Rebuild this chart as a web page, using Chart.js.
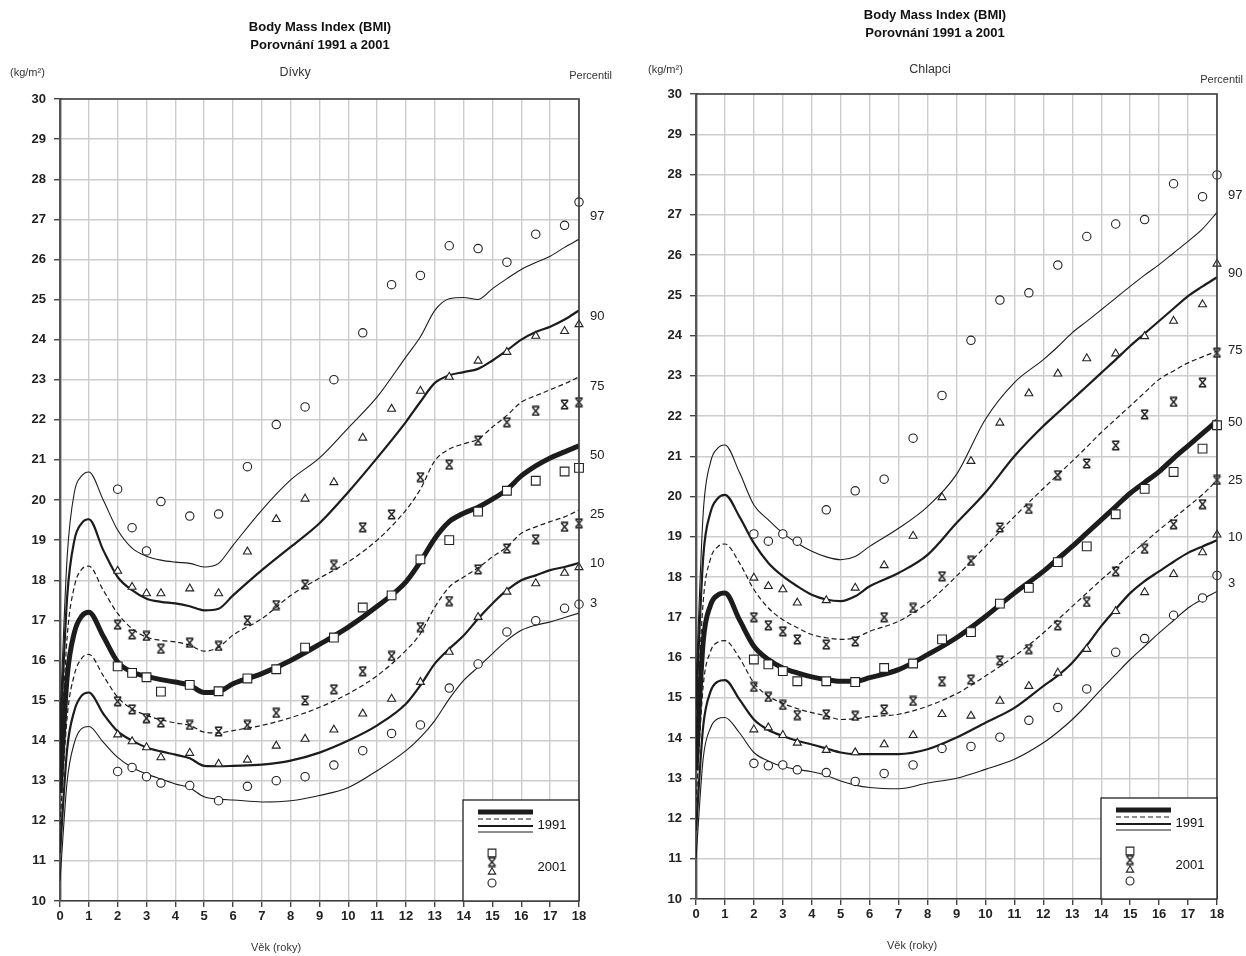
<!DOCTYPE html>
<html><head><meta charset="utf-8">
<script src="https://cdn.jsdelivr.net/npm/chart.js@4.4.1/dist/chart.umd.min.js"></script>
<style>
html,body{margin:0;padding:0;background:#fff;}
#wrap{position:relative;width:1246px;height:956px;overflow:hidden;}
canvas{position:absolute;top:0;}
#cL{left:0;} #cR{left:623px;}
</style></head><body>
<div id="wrap"><canvas id="cL" width="623" height="956"></canvas><canvas id="cR" width="623" height="956"></canvas></div>
<script>
// ---------------- DATA ----------------
const ages1991 = [0,0.25,0.5,0.75,1,1.5,2,2.5,3,3.5,4,4.5,5,5.5,6,7,8,9,10,11,12,12.5,13,13.5,14,14.5,15,15.5,16,16.5,17,17.5,18];
const ages2001 = [2,2.5,3,3.5,4.5,5.5,6.5,7.5,8.5,9.5,10.5,11.5,12.5,13.5,14.5,15.5,16.5,17.5,18];
const percentiles = ['97','90','75','50','25','10','3'];
const yTickValues = [10,11,12,13,14,15,16,17,18,19,20,21,22,23,24,25,26,27,28,29,30];
const xTickValues = [0,1,2,3,4,5,6,7,8,9,10,11,12,13,14,15,16,17,18];

// Girls (Dívky) 1991 percentile curves
const g1991_97 = [14.5,18.6,20.2,20.6,20.7,20.0,19.25,18.8,18.6,18.5,18.45,18.42,18.33,18.42,18.87,19.75,20.5,21.05,21.8,22.57,23.57,24.07,24.73,25.02,25.05,25.0,25.27,25.52,25.75,25.92,26.08,26.3,26.5];
const g1991_90 = [13.9,17.6,19.0,19.42,19.52,18.75,18.08,17.75,17.54,17.46,17.42,17.35,17.25,17.29,17.62,18.25,18.83,19.42,20.2,21.05,21.95,22.45,22.92,23.11,23.19,23.27,23.48,23.73,24.0,24.19,24.32,24.5,24.73];
const g1991_75 = [13.3,16.6,17.85,18.27,18.35,17.75,17.17,16.79,16.58,16.5,16.46,16.38,16.23,16.33,16.63,17.04,17.62,18.05,18.46,19.0,19.75,20.27,20.98,21.27,21.4,21.52,21.82,22.11,22.44,22.6,22.75,22.9,23.07];
const g1991_50 = [12.7,15.6,16.7,17.1,17.2,16.6,15.96,15.71,15.6,15.52,15.46,15.38,15.2,15.22,15.42,15.67,16.0,16.4,16.83,17.35,17.96,18.46,19.04,19.46,19.67,19.82,20.02,20.26,20.6,20.85,21.05,21.2,21.35];
const g1991_25 = [11.9,14.6,15.65,16.05,16.15,15.62,15.08,14.79,14.63,14.52,14.44,14.38,14.21,14.19,14.25,14.38,14.57,14.83,15.17,15.62,16.25,16.67,17.33,17.83,18.08,18.31,18.58,18.83,19.17,19.33,19.46,19.58,19.75];
const g1991_10 = [11.2,13.8,14.75,15.12,15.2,14.67,14.23,14.0,13.83,13.73,13.65,13.56,13.37,13.36,13.37,13.4,13.5,13.7,14.0,14.38,14.92,15.38,15.92,16.29,16.62,17.04,17.42,17.75,18.0,18.12,18.25,18.33,18.43];
const g1991_3  = [10.5,13.0,13.95,14.3,14.35,13.96,13.58,13.33,13.17,13.04,12.92,12.82,12.6,12.54,12.52,12.47,12.5,12.63,12.83,13.25,13.75,14.08,14.5,15.04,15.5,15.83,16.17,16.5,16.75,16.88,16.96,17.07,17.18];

// Girls 2001 measured percentiles
const g2001_97 = [20.27,19.31,18.73,19.96,19.6,19.65,20.83,21.88,22.32,23.0,24.17,25.37,25.6,26.34,26.27,25.93,26.63,26.85,27.43];
const g2001_90 = [18.23,17.83,17.67,17.67,17.79,17.67,18.71,19.52,20.03,20.44,21.55,22.27,22.72,23.07,23.47,23.69,24.09,24.21,24.38];
const g2001_75 = [16.89,16.65,16.61,16.29,16.44,16.36,17.0,17.38,17.89,18.38,19.32,19.64,20.57,20.88,21.48,21.94,22.22,22.38,22.44];
const g2001_50 = [15.85,15.69,15.58,15.22,15.39,15.23,15.55,15.78,16.32,16.57,17.32,17.62,18.52,19.0,19.71,20.23,20.48,20.71,20.8];
const g2001_25 = [14.98,14.78,14.56,14.45,14.39,14.23,14.39,14.69,15.0,15.28,15.73,16.11,16.83,17.48,18.27,18.79,19.02,19.33,19.42];
const g2001_10 = [14.15,13.98,13.83,13.58,13.69,13.42,13.52,13.87,14.04,14.27,14.67,15.04,15.46,16.21,17.08,17.71,17.92,18.18,18.32];
const g2001_3  = [13.23,13.33,13.1,12.94,12.88,12.5,12.86,13.0,13.1,13.39,13.75,14.18,14.39,15.31,15.91,16.71,16.99,17.3,17.4];

// Boys (Chlapci) 1991 percentile curves
const b1991_97 = [15.3,19.6,20.85,21.2,21.28,20.6,19.79,19.42,19.09,18.84,18.64,18.5,18.43,18.51,18.76,19.21,19.75,20.55,21.92,22.83,23.4,23.72,24.07,24.35,24.64,24.93,25.22,25.5,25.76,26.05,26.34,26.65,27.06];
const b1991_90 = [14.7,18.5,19.6,19.95,20.04,19.5,18.84,18.35,18.02,17.77,17.56,17.44,17.4,17.52,17.77,18.1,18.55,19.34,20.1,21.0,21.75,22.08,22.41,22.74,23.07,23.4,23.74,24.05,24.36,24.67,24.98,25.22,25.45];
const b1991_75 = [14.0,17.4,18.45,18.75,18.82,18.35,17.69,17.23,16.94,16.74,16.57,16.49,16.45,16.49,16.65,16.9,17.36,18.02,18.76,19.5,20.2,20.54,20.88,21.23,21.59,21.92,22.25,22.58,22.91,23.12,23.32,23.47,23.61];
const b1991_50 = [13.2,16.4,17.3,17.55,17.6,16.94,16.28,15.95,15.74,15.62,15.52,15.45,15.41,15.41,15.5,15.7,16.07,16.49,17.02,17.6,18.14,18.45,18.76,19.09,19.42,19.75,20.08,20.35,20.62,20.95,21.26,21.57,21.88];
const b1991_25 = [12.4,15.3,16.15,16.38,16.42,15.99,15.37,15.04,14.86,14.73,14.63,14.55,14.46,14.48,14.53,14.59,14.79,15.1,15.54,16.03,16.61,16.94,17.27,17.6,17.93,18.24,18.55,18.86,19.17,19.46,19.75,20.05,20.4];
const b1991_10 = [11.7,14.3,15.15,15.4,15.44,14.96,14.46,14.2,14.05,13.93,13.84,13.74,13.64,13.6,13.6,13.6,13.72,14.01,14.38,14.75,15.29,15.55,15.87,16.3,16.78,17.2,17.6,17.9,18.14,18.38,18.6,18.76,18.91];
const b1991_3  = [11.0,13.5,14.25,14.48,14.51,14.13,13.64,13.43,13.29,13.22,13.16,13.07,12.93,12.83,12.77,12.74,12.88,13.0,13.22,13.47,13.88,14.15,14.46,14.82,15.21,15.58,15.95,16.28,16.61,16.92,17.23,17.45,17.64];

// Boys 2001 measured percentiles
const b2001_97 = [19.07,18.89,19.07,18.89,19.67,20.14,20.43,21.45,22.51,23.88,24.88,25.06,25.75,26.46,26.77,26.88,27.77,27.45,27.99];
const b2001_90 = [17.98,17.77,17.69,17.36,17.42,17.73,18.29,19.02,19.98,20.88,21.83,22.56,23.05,23.43,23.55,23.98,24.36,24.77,25.78];
const b2001_75 = [17.0,16.8,16.65,16.45,16.32,16.4,17.0,17.23,18.02,18.4,19.23,19.69,20.53,20.82,21.27,22.04,22.35,22.83,23.57];
const b2001_50 = [15.95,15.83,15.66,15.41,15.41,15.39,15.74,15.85,16.45,16.63,17.34,17.73,18.37,18.76,19.56,20.19,20.61,21.19,21.77];
const b2001_25 = [15.27,15.02,14.82,14.57,14.59,14.55,14.71,14.92,15.41,15.45,15.93,16.21,16.8,17.38,18.14,18.7,19.31,19.81,20.41];
const b2001_10 = [14.21,14.26,14.07,13.88,13.7,13.64,13.84,14.07,14.59,14.55,14.92,15.29,15.62,16.21,17.15,17.62,18.07,18.61,19.05];
const b2001_3  = [13.37,13.31,13.33,13.21,13.14,12.92,13.12,13.33,13.74,13.79,14.02,14.44,14.76,15.22,16.13,16.47,17.05,17.48,18.04];

// ---------------- STYLE ----------------
const FONT = "'Liberation Sans', Arial, Helvetica, sans-serif";
const INK = '#1c1c1c';
const lineStyles = [
  {w:1.1, dash:[]},      // 97
  {w:2.2, dash:[]},      // 90
  {w:1.2, dash:[5,3]},   // 75
  {w:5.0, dash:[]},      // 50
  {w:1.2, dash:[5,3]},   // 25
  {w:2.2, dash:[]},      // 10
  {w:1.1, dash:[]}       // 3
];

function makeCrossImage(){
  const c = document.createElement('canvas');
  c.width = 11; c.height = 11;
  const g = c.getContext('2d');
  g.strokeStyle = INK; g.lineWidth = 1.4; g.lineCap = 'butt';
  g.beginPath();
  g.moveTo(2.2,1.8); g.lineTo(8.8,9.2);
  g.moveTo(8.8,1.8); g.lineTo(2.2,9.2);
  g.moveTo(1.8,1.3); g.lineTo(9.2,1.3);
  g.moveTo(1.8,9.7); g.lineTo(9.2,9.7);
  g.stroke();
  return c;
}
const crossImg = makeCrossImage();
const markerStyles = [
  {style:'circle',   r:4.2},
  {style:'triangle', r:4.6},
  {style:crossImg,   r:5},
  {style:'rect',     r:6.2},
  {style:crossImg,   r:5},
  {style:'triangle', r:4.6},
  {style:'circle',   r:4.2}
];

function buildDatasets(curves, points){
  const ds = [];
  curves.forEach((vals, i) => {
    ds.push({
      type:'line', label:'1991 P'+percentiles[i],
      data: ages1991.map((a,j)=>({x:a, y:vals[j]})),
      borderColor: INK, borderWidth: lineStyles[i].w, borderDash: lineStyles[i].dash,
      pointRadius:0, cubicInterpolationMode:'monotone', fill:false, order:1
    });
  });
  points.forEach((vals, i) => {
    ds.push({
      type:'scatter', label:'2001 P'+percentiles[i],
      data: ages2001.map((a,j)=>({x:a, y:vals[j]})),
      showLine:false, pointStyle: markerStyles[i].style, pointRadius: markerStyles[i].r,
      pointBorderWidth:1.1, pointBorderColor:'#222', pointBackgroundColor:'#fff',
      order:0, clip:false
    });
  });
  return ds;
}

const panelPlugin = {
  id:'panelDeco',
  afterDatasetsDraw(chart, args, o){
    const ctx = chart.ctx, ca = chart.chartArea, ys = chart.scales.y;
    ctx.save();
    // frame top & right
    ctx.strokeStyle = '#3a3a3a'; ctx.lineWidth = 1.6;
    ctx.beginPath();
    ctx.moveTo(ca.left, ca.top); ctx.lineTo(ca.right, ca.top); ctx.lineTo(ca.right, ca.bottom);
    ctx.stroke();
    // texts
    ctx.fillStyle = '#111'; ctx.textBaseline = 'middle';
    ctx.font = 'bold 13px '+FONT; ctx.textAlign = 'center';
    ctx.fillText('Body Mass Index (BMI)', o.titleX, o.titleY);
    ctx.fillText('Porovnání 1991 a 2001', o.titleX, o.titleY+18);
    ctx.fillStyle = '#333';
    ctx.font = '11px '+FONT; ctx.textAlign = 'left';
    ctx.fillText('(kg/m²)', o.unitX, o.unitY);
    ctx.font = '12.5px '+FONT; ctx.textAlign = 'center';
    ctx.fillText(o.subtitle, o.subX, o.subY);
    ctx.font = '11px '+FONT; ctx.textAlign = 'right';
    ctx.fillText('Percentil', o.pctX, o.pctY);
    ctx.font = '11px '+FONT; ctx.textAlign = 'center';
    ctx.fillText('Věk (roky)', o.xTitleX, o.xTitleY);
    // percentile labels at right side
    ctx.font = '13px '+FONT; ctx.textAlign = 'left'; ctx.fillStyle = '#222';
    percentiles.forEach((p,i)=>{
      ctx.fillText(p, ca.right + 11, ys.getPixelForValue(o.labelAnchors[i]));
    });
    // in-plot legend box
    const bx = ca.right - 116, by = ca.bottom - 101;
    ctx.fillStyle = '#fff';
    ctx.fillRect(bx, by, 116, 101);
    ctx.strokeStyle = '#222'; ctx.lineWidth = 1.3;
    ctx.strokeRect(bx, by, 116, 101);
    const lx1 = bx + 15, lx2 = bx + 70;
    const legendLines = [[12,5,[]],[19,1.2,[5,3]],[26,2.2,[]],[32,1.1,[]]];
    legendLines.forEach(([dy,w,d])=>{
      ctx.beginPath(); ctx.setLineDash(d); ctx.lineWidth = w; ctx.strokeStyle = INK;
      ctx.moveTo(lx1, by+dy); ctx.lineTo(lx2, by+dy); ctx.stroke();
    });
    ctx.setLineDash([]);
    ctx.fillStyle = '#111'; ctx.font = '13px '+FONT; ctx.textAlign = 'center';
    ctx.fillText('1991', bx + 89, by + 25);
    ctx.fillText('2001', bx + 89, by + 67);
    const legendMarks = [[53,'rect',5.5],[62,crossImg,4.5],[72,'triangle',4.2],[83,'circle',4]];
    legendMarks.forEach(([dy,st,r])=>{
      ctx.fillStyle = '#fff'; ctx.strokeStyle = '#222'; ctx.lineWidth = 1.1;
      Chart.helpers.drawPoint(ctx, {pointStyle:st, radius:r, borderWidth:1.1, rotation:0}, bx + 29, by + dy);
    });
    ctx.restore();
  }
};

function makePanel(id, curves, points, deco, geom){
  const tickFont = {family:FONT, size:13, weight:'bold'};
  return new Chart(document.getElementById(id), {
    data:{datasets: buildDatasets(curves, points)},
    plugins:[panelPlugin],
    options:{
      responsive:false, animation:false, devicePixelRatio:1,
      layout:{padding:{left:0, right:geom.padRight, top:geom.padTop, bottom:0}},
      plugins:{legend:{display:false}, tooltip:{enabled:false}, panelDeco:deco},
      scales:{
        x:{type:'linear', min:0, max:18,
          afterBuildTicks:s=>{ s.ticks = xTickValues.map(v=>({value:v})); },
          ticks:{font:tickFont, color:'#222', padding:2, maxRotation:0, autoSkip:false},
          grid:{color:'#cdcdcd', lineWidth:1.4, tickLength:6, tickColor:'#444', tickWidth:1.4},
          border:{color:'#3a3a3a', width:1.6},
          afterFit:s=>{ s.height = geom.xAxisH; }
        },
        y:{type:'linear', min:10, max:30,
          afterBuildTicks:s=>{ s.ticks = yTickValues.map(v=>({value:v})); },
          ticks:{font:tickFont, color:'#222', padding:8},
          grid:{color:'#cdcdcd', lineWidth:1.4, tickLength:6, tickColor:'#444', tickWidth:1.4},
          border:{color:'#555', width:2.4},
          afterFit:s=>{ s.width = geom.yAxisW; }
        }
      }
    }
  });
}

makePanel('cL',
  [g1991_97,g1991_90,g1991_75,g1991_50,g1991_25,g1991_10,g1991_3],
  [g2001_97,g2001_90,g2001_75,g2001_50,g2001_25,g2001_10,g2001_3],
  {titleX:320, titleY:27, unitX:10, unitY:73, subtitle:'Dívky', subX:295, subY:73,
   pctX:612, pctY:76, xTitleX:276, xTitleY:948,
   labelAnchors:[27.06,24.59,22.82,21.1,19.65,18.43,17.41]},
  {padRight:44, padTop:99, xAxisH:55, yAxisW:60});

makePanel('cR',
  [b1991_97,b1991_90,b1991_75,b1991_50,b1991_25,b1991_10,b1991_3],
  [b2001_97,b2001_90,b2001_75,b2001_50,b2001_25,b2001_10,b2001_3],
  {titleX:312, titleY:15, unitX:25, unitY:70, subtitle:'Chlapci', subX:307, subY:70,
   pctX:620, pctY:80, xTitleX:289, xTitleY:946,
   labelAnchors:[27.49,25.55,23.64,21.83,20.39,18.99,17.85]},
  {padRight:29, padTop:94, xAxisH:57, yAxisW:73});
</script>
</body></html>
